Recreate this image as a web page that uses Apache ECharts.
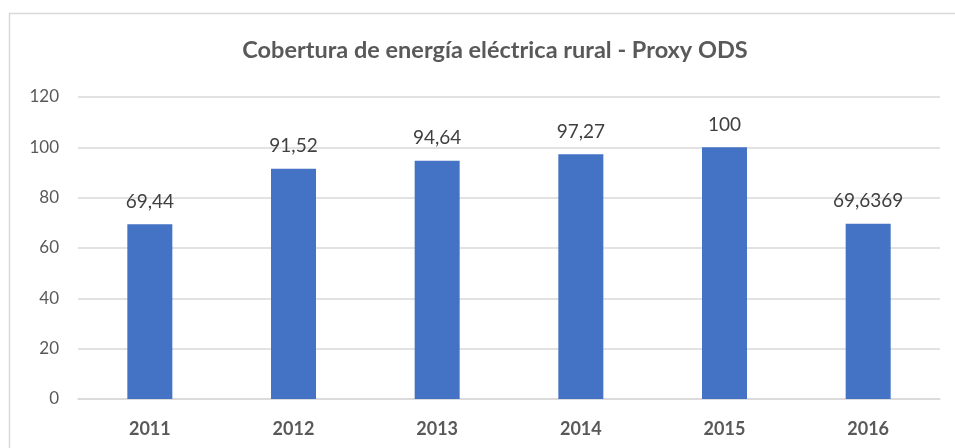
<!DOCTYPE html>
<html>
<head>
<meta charset="utf-8">
<script src="https://cdn.jsdelivr.net/npm/echarts@6/dist/echarts.min.js"></script>
<style>
  html, body { margin: 0; padding: 0; background: #fff; }
  #chart { width: 955px; height: 448px; }
</style>
</head>
<body>
<div id="chart"></div>
<script>
  var years = ['2011', '2012', '2013', '2014', '2015', '2016'];
  var coverage = [69.44, 91.52, 94.64, 97.27, 100, 69.6369];
  var yTicks = [0, 20, 40, 60, 80, 100, 120];

  var chart = echarts.init(document.getElementById('chart'));
  var font = 'Lato, "Open Sans", sans-serif';

  chart.setOption({
    backgroundColor: '#ffffff',
    animation: false,
    graphic: [{
      type: 'rect',
      shape: { x: 9.5, y: 13.5, width: 960, height: 450 },
      style: { fill: 'none', stroke: '#d9d9d9', lineWidth: 1.5 },
      silent: true
    }],
    title: {
      text: 'Cobertura de energía eléctrica rural - Proxy ODS',
      left: 490,
      textAlign: 'center',
      top: 33,
      textStyle: { fontFamily: font, fontSize: 23.5, fontWeight: 'bold', color: '#595959' }
    },
    grid: { left: 78, right: 15, top: 97, bottom: 49 },
    xAxis: {
      type: 'category',
      data: years,
      axisLine: { lineStyle: { color: '#d9d9d9', width: 1.5 } },
      axisTick: { show: false },
      axisLabel: {
        margin: 21,
        fontFamily: font, fontSize: 18, fontWeight: 'bold', color: '#595959'
      }
    },
    yAxis: {
      type: 'value',
      min: yTicks[0],
      max: yTicks[yTicks.length - 1],
      interval: 20,
      axisLine: { show: false },
      axisTick: { show: false },
      splitLine: { lineStyle: { color: '#d9d9d9', width: 1.5 } },
      axisLabel: {
        margin: 19,
        fontFamily: font, fontSize: 17, color: '#595959'
      }
    },
    series: [{
      type: 'bar',
      data: coverage,
      barWidth: 45,
      itemStyle: { color: '#4472c4' },
      label: {
        show: true,
        position: 'top',
        distance: 13,
        fontFamily: font, fontSize: 19, color: '#404040',
        formatter: function (p) { return String(p.value).replace('.', ','); }
      }
    }]
  });
</script>
</body>
</html>
